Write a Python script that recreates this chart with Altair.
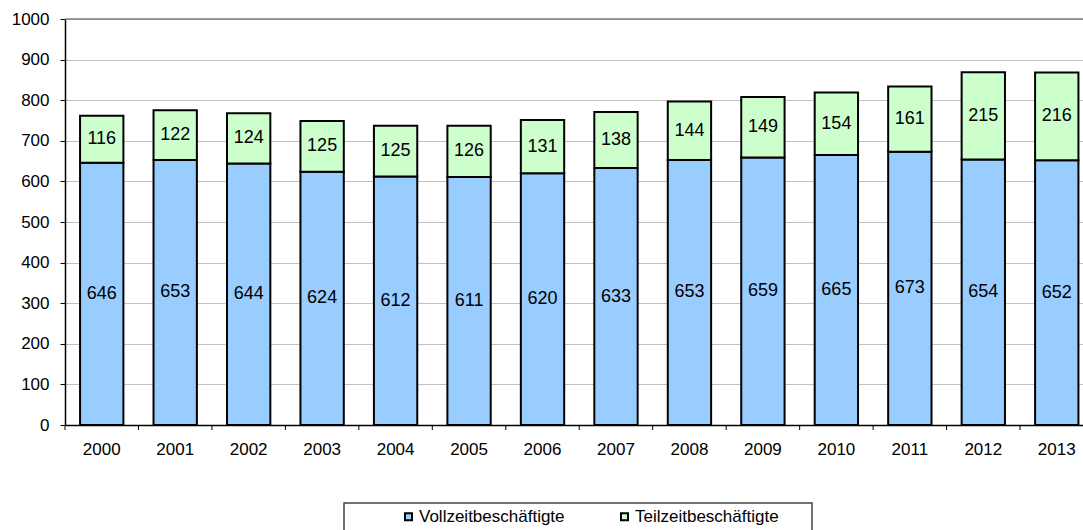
import altair as alt
import pandas as pd

years = [str(y) for y in range(2000, 2014)]
vollzeit = [646, 653, 644, 624, 612, 611, 620, 633, 653, 659, 665, 673, 654, 652]
teilzeit = [116, 122, 124, 125, 125, 126, 131, 138, 144, 149, 154, 161, 215, 216]
types = ["Vollzeitbeschäftigte", "Teilzeitbeschäftigte"]
colors = ["#99CCFF", "#CCFFCC"]
y_ticks = list(range(0, 1001, 100))

rows = []
for i, yr in enumerate(years):
    rows.append({"year": yr, "type": types[0], "value": vollzeit[i], "order": 0})
    rows.append({"year": yr, "type": types[1], "value": teilzeit[i], "order": 1})
df = pd.DataFrame(rows)

FONT = "Liberation Sans"
PLOT_W = 1018
PLOT_H = 406
FULL_RANGE = 1028.5

xscale = alt.Scale(range=[0, FULL_RANGE], paddingInner=0.41, paddingOuter=0.205)

base = alt.Chart(df).transform_stack(
    stack="value", groupby=["year"], as_=["v0", "v1"],
    sort=[alt.SortField("order", order="ascending")]
).transform_calculate(mid="(datum.v0 + datum.v1) / 2")

bars = base.mark_bar(stroke="black", strokeWidth=2).encode(
    x=alt.X("year:O", sort=years, scale=xscale,
            axis=alt.Axis(title=None, labelAngle=0, ticks=False, domainColor="black",
                          domainWidth=1.5, labelPadding=16, labelFontSize=17,
                          labelColor="black", labelFont=FONT, grid=False)),
    y=alt.Y("v0:Q", scale=alt.Scale(domain=[0, 1000], nice=False),
            axis=alt.Axis(title=None, values=y_ticks, format="d", tickSize=5,
                          tickColor="black", domainColor="black", domainWidth=1.5,
                          labelPadding=11, labelFontSize=17, labelColor="black",
                          labelFont=FONT, grid=True, gridColor="#808080",
                          gridDash=[1, 1], gridWidth=1)),
    y2="v1:Q",
    color=alt.Color("type:N", scale=alt.Scale(domain=types, range=colors),
                    legend=alt.Legend(orient="none", legendX=335, legendY=489,
                                      direction="horizontal", title=None,
                                      symbolType="square", symbolSize=49,
                                      symbolStrokeColor="black", symbolStrokeWidth=2,
                                      symbolOpacity=1,
                                      labelFontSize=17, labelFont=FONT, labelColor="black",
                                      columnPadding=51, labelOffset=2, padding=0)),
)

labels = base.mark_text(fontSize=18, font=FONT, color="black").encode(
    x=alt.X("year:O", sort=years),
    y=alt.Y("mid:Q"),
    text=alt.Text("value:Q"),
)

xticks = base.transform_filter(alt.datum.order == 0).mark_rule(
    color="black", strokeWidth=1, xOffset=-15.06
).encode(
    x=alt.X("year:O", sort=years, bandPosition=0),
    y=alt.value(PLOT_H),
    y2=alt.value(PLOT_H + 5),
)

top_rule = alt.Chart(pd.DataFrame({"v": [1000]})).mark_rule(
    color="#808080", strokeWidth=1.5
).encode(y=alt.Y("v:Q"))

legend_box = alt.Chart(pd.DataFrame({"v": [0]})).mark_rect(
    fill="transparent", stroke="#444444", strokeWidth=1.5
).encode(
    x=alt.value(279), x2=alt.value(747),
    y=alt.value(484), y2=alt.value(530),
)

chart = alt.layer(bars, labels, top_rule, xticks, legend_box).properties(
    width=PLOT_W, height=PLOT_H,
    autosize=alt.AutoSizeParams(type="none"),
    padding={"left": 65, "top": 19, "right": 0, "bottom": 105},
).configure_view(stroke=None).configure(font=FONT)

chart.save("out.html", embed_options={"renderer": "svg", "actions": False})
